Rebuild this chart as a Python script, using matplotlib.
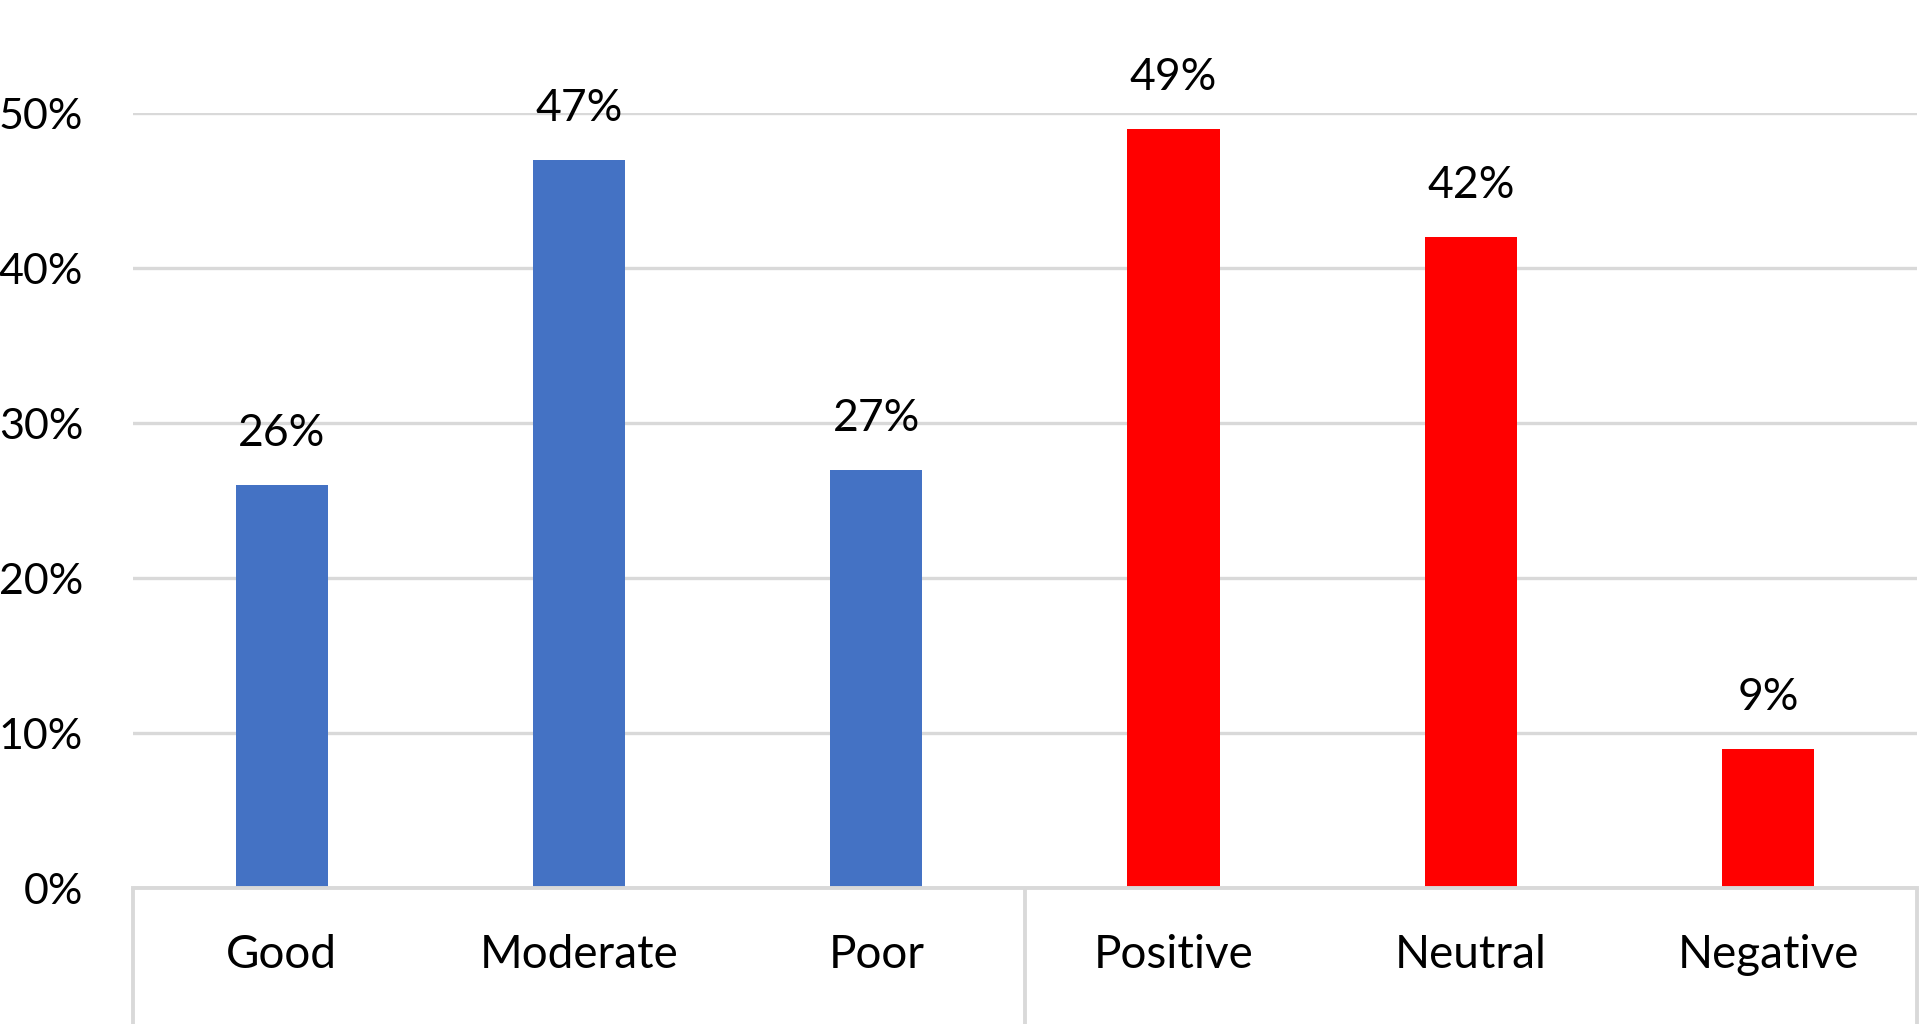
import matplotlib
matplotlib.use("Agg")
from matplotlib import pyplot as plt
from matplotlib import transforms

# data
categories = ["Good", "Moderate", "Poor", "Positive", "Neutral", "Negative"]
values = [0.26, 0.47, 0.27, 0.49, 0.42, 0.09]
bar_colors = ["#4472C4", "#4472C4", "#4472C4", "#FF0000", "#FF0000", "#FF0000"]
yticks = [0.0, 0.1, 0.2, 0.3, 0.4, 0.5]
ytick_labels = ["0%", "10%", "20%", "30%", "40%", "50%"]
group_edges = [-0.5, 2.5, 5.5]

plt.rcParams["font.family"] = ["Lato", "DejaVu Sans"]

fig = plt.figure(figsize=(19.2, 10.24), dpi=100)
ax = fig.add_axes([0.0693, 0.1328, 0.929, 0.7568])

x = list(range(len(categories)))
ax.bar(x, values, width=0.31, color=bar_colors, zorder=3)

# value labels above bars
for xi, v in zip(x, values):
    ax.annotate(f"{v*100:.0f}%", (xi, v), xytext=(0, 22), textcoords="offset points",
                ha="center", va="bottom", fontsize=32, clip_on=False)

ax.set_xlim(-0.5, 5.5)
ax.set_ylim(0, 0.5)
ax.set_yticks(yticks)
ax.set_yticklabels(ytick_labels)
ax.set_xticks(x)
ax.set_xticklabels(categories)
ax.tick_params(axis="y", length=0, pad=36, labelsize=31)
ax.tick_params(axis="x", length=0, pad=33, labelsize=33)

# gridlines
ax.grid(axis="y", color="#D9D9D9", linewidth=2.4, zorder=0)
ax.set_axisbelow(True)
for side in ["top", "right", "left"]:
    ax.spines[side].set_visible(False)
ax.spines["bottom"].set_color("#D9D9D9")
ax.spines["bottom"].set_linewidth(2.8)
ax.spines["bottom"].set_zorder(4)

# group box lines under the axis
trans = transforms.blended_transform_factory(ax.transData, ax.transAxes)
for e in group_edges:
    ax.plot([e, e], [0, -0.18], transform=trans, color="#D9D9D9",
            linewidth=2.8, clip_on=False, solid_capstyle="butt")

fig.savefig("out.png", dpi=100)
